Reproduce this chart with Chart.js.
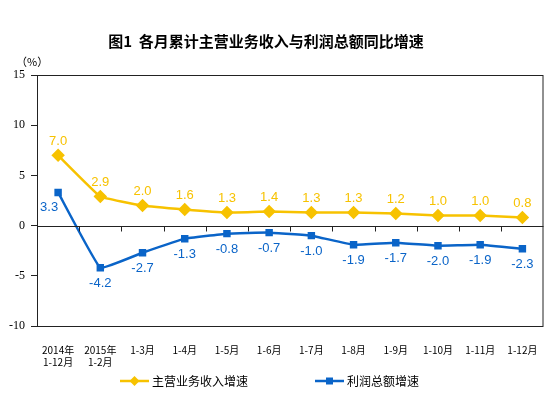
<!DOCTYPE html>
<html><head><meta charset="utf-8">
<script src="https://cdn.jsdelivr.net/npm/chart.js@4"></script>
<style>html,body{margin:0;padding:0;background:#fff}#wrap{width:551px;height:397px}</style>
</head><body><div id="wrap"><canvas id="c" width="551" height="397"></canvas></div>
<script>
const categories = [["2014年","1-12月"],["2015年","1-2月"],"1-3月","1-4月","1-5月","1-6月","1-7月","1-8月","1-9月","1-10月","1-11月","1-12月"];
const revenueGrowth = [7.0, 2.9, 2.0, 1.6, 1.3, 1.4, 1.3, 1.3, 1.2, 1.0, 1.0, 0.8];
const profitGrowth = [3.3, -4.2, -2.7, -1.3, -0.8, -0.7, -1.0, -1.9, -1.7, -2.0, -1.9, -2.3];
const yTicks = [15, 10, 5, 0, -5, -10];
const seriesNames = ["主营业务收入增速", "利润总额增速"];
const titleText = "图1  各月累计主营业务收入与利润总额同比增速";
const YELLOW = "#F7C200", BLUE = "#0A64C8";

const boxPlugin = {
  id: 'box',
  afterDraw(chart) {
    const ctx = chart.ctx, a = chart.chartArea, ys = chart.scales.y;
    ctx.save();
    ctx.strokeStyle = "#222"; ctx.lineWidth = 1;
    ctx.strokeRect(a.left + 0.5, a.top + 0.5, a.right - a.left - 1, a.bottom - a.top);
    const y0 = Math.round(ys.getPixelForValue(0)) + 0.5;
    ctx.beginPath();
    ctx.moveTo(a.left, y0); ctx.lineTo(a.right, y0);
    const n = categories.length, w = (a.right - a.left) / n;
    for (let i = 1; i < n; i++) {
      const x = Math.round(a.left + i * w) + 0.5;
      ctx.moveTo(x, y0); ctx.lineTo(x, y0 + 5);
    }
    ctx.stroke();
    // title
    ctx.fillStyle = "#000";
    ctx.font = "bold 15px 'Noto Sans CJK SC'";
    ctx.textAlign = "center"; ctx.textBaseline = "middle";
    ctx.fillText(titleText, 266, 41);
    ctx.font = "11px 'Noto Sans CJK SC'";
    ctx.textAlign = "left";
    ctx.fillText("（%）", 16, 62);
    // legend
    const items = [[120, YELLOW, 'rectRot', 5], [315, BLUE, 'rect', 3.5]];
    ctx.font = "12px 'Noto Sans CJK SC'";
    items.forEach((it, k) => {
      const [x, col, ps, r] = it, y = 381;
      ctx.strokeStyle = col; ctx.lineWidth = 2.5;
      ctx.beginPath(); ctx.moveTo(x, y); ctx.lineTo(x + 29, y); ctx.stroke();
      ctx.fillStyle = col;
      ctx.beginPath();
      if (ps === 'rectRot') { ctx.moveTo(x+14.5, y-r); ctx.lineTo(x+14.5+r, y); ctx.lineTo(x+14.5, y+r); ctx.lineTo(x+14.5-r, y); ctx.closePath(); }
      else { ctx.rect(x+14.5-r, y-r, 2*r, 2*r); }
      ctx.fill();
      ctx.fillStyle = "#000"; ctx.textAlign = "left";
      ctx.fillText(seriesNames[k], x + 32, y);
    });
    ctx.restore();
  },
  afterDatasetsDraw(chart) {
    const ctx = chart.ctx;
    ctx.save();
    ctx.font = "13px 'Liberation Sans'";
    ctx.textAlign = "center"; ctx.textBaseline = "middle";
    chart.data.datasets.forEach((ds, di) => {
      const meta = chart.getDatasetMeta(di);
      ctx.fillStyle = ds.borderColor;
      meta.data.forEach((pt, i) => {
        const v = ds.data[i];
        let x = pt.x, y = pt.y;
        if (di === 0) { y -= 14; }
        else if (i === 0) { x -= 9; y += 15; }
        else { y += 16; }
        ctx.fillText(v.toFixed(1), x, y);
      });
    });
    ctx.restore();
  }
};

new Chart(document.getElementById('c'), {
  type: 'line',
  data: {
    labels: categories,
    datasets: [
      { label: seriesNames[0], data: revenueGrowth, borderColor: YELLOW, backgroundColor: YELLOW,
        borderWidth: 2.5, pointStyle: 'rectRot', pointRadius: 5, pointHoverRadius: 5, tension: 0.08 },
      { label: seriesNames[1], data: profitGrowth, borderColor: BLUE, backgroundColor: BLUE,
        borderWidth: 2.5, pointStyle: 'rect', pointRadius: 3.5, pointHoverRadius: 3.5, tension: 0.08 }
    ]
  },
  options: {
    responsive: false, animation: false, devicePixelRatio: 1,
    layout: { padding: { top: 75, right: 7, bottom: 0, left: 0 } },
    plugins: { legend: { display: false }, tooltip: { enabled: false }, title: { display: false } },
    scales: {
      x: {
        offset: true,
        grid: { display: false }, border: { display: false },
        ticks: { color: "#000", font: { family: "'Noto Sans CJK SC'", size: 10 }, padding: 10, maxRotation: 0, autoSkip: false },
        afterFit(s) { s.height = 71; }
      },
      y: {
        min: -10, max: 15,
        afterBuildTicks(s) { s.ticks = yTicks.map(v => ({ value: v })); },
        grid: { drawOnChartArea: false, drawTicks: true, tickLength: 6, color: "#222" },
        border: { display: true, color: "#222" },
        ticks: { color: "#000", font: { family: "'Liberation Serif'", size: 12 }, padding: 6 },
        afterFit(s) { s.width = 37; }
      }
    }
  },
  plugins: [boxPlugin]
});
</script></body></html>
